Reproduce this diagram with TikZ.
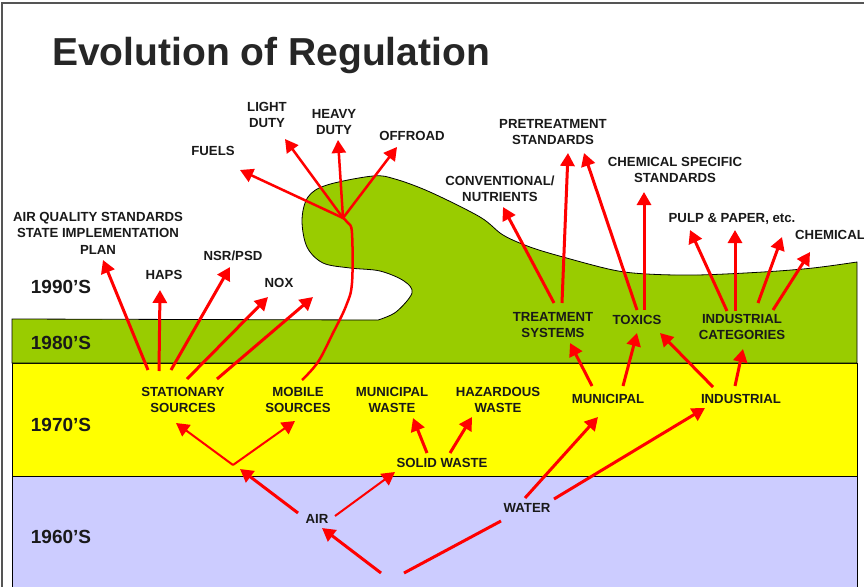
\documentclass[tikz,border=0pt]{standalone}
\usepackage{fontspec}
\setmainfont{Liberation Sans}
\usetikzlibrary{arrows.meta}
\definecolor{bandgreen}{HTML}{99CC00}
\definecolor{bandyellow}{HTML}{FFFF00}
\definecolor{bandblue}{HTML}{CCCCFF}
\definecolor{arrred}{HTML}{FF0000}
\definecolor{framegray}{HTML}{555555}
\tikzset{
  lbl/.style={inner sep=0pt, align=center, font=\fontsize{13.2}{16.5}\selectfont\bfseries, text=black!90},
  yearlbl/.style={inner sep=0pt, font=\fontsize{19}{22}\selectfont\bfseries, text=black!90},
  arr/.style={draw=arrred, line width=3pt, -{Triangle[length=13pt,width=14pt]}},
  thinarr/.style={draw=arrred, line width=2pt, -{Triangle[length=13pt,width=14pt]}},
  plainline/.style={draw=arrred, line width=3pt},
  band/.style={draw=black, line width=0.8pt}
}
\begin{document}
\begin{tikzpicture}[x=1pt,y=-1pt]
\useasboundingbox (0,0) rectangle (864,586);
\clip (0,0) rectangle (864,586);
\fill[white] (0,0) rectangle (864,586);
% outer frame
\draw[framegray, line width=1.5pt] (2,600) -- (2,3) -- (870,3);
% bands
\fill[bandblue] (12,476) rectangle (857,600);
\draw[band] (12,600) -- (12,476) -- (857,476) -- (857,600);
\fill[bandyellow] (12,363) rectangle (857,476);
\draw[band] (12,363) rectangle (857,476);
% green wave
\draw[band, fill=bandgreen] (12,363) -- (12,319) -- (378,320)
  -- plot[smooth, tension=0.55] coordinates {(378,320) (396,312) (412,293) (404,281) (380,271) (350,268) (323,263) (307,247) (302,220) (308,197) (327,185) (373,176) (395,179) (430,192) (480,217) (503,235) (530,247) (563,257) (613,270) (647,274) (697,275) (763,272) (813,268) (857,262)}
  -- (857,363) -- cycle;
% title
\node[anchor=base west, inner sep=0pt, font=\fontsize{39}{44}\selectfont\bfseries, text=black!85] (title) at (52,66) {Evolution of Regulation};
% year labels
\node[yearlbl] (y90) at (61,287) {1990’S};
\node[yearlbl] (y80) at (61,343) {1980’S};
\node[yearlbl] (y70) at (61,425) {1970’S};
\node[yearlbl] (y60) at (61,537) {1960’S};
% labels
\node[lbl] (aqs) at (98,233) {AIR QUALITY STANDARDS\\STATE IMPLEMENTATION\\PLAN};
\node[lbl] (haps) at (164,275) {HAPS};
\node[lbl] (nsr) at (233,256) {NSR/PSD};
\node[lbl] (nox) at (279,283) {NOX};
\node[lbl] (fuels) at (213,151) {FUELS};
\node[lbl] (light) at (267,115) {LIGHT\\DUTY};
\node[lbl] (heavy) at (334,122) {HEAVY\\DUTY};
\node[lbl] (offroad) at (412,136) {OFFROAD};
\node[lbl] (pretreat) at (553,132) {PRETREATMENT\\STANDARDS};
\node[lbl] (conv) at (500,189) {CONVENTIONAL/\\NUTRIENTS};
\node[lbl] (chemspec) at (675,170) {CHEMICAL SPECIFIC\\STANDARDS};
\node[lbl] (pulp) at (732,219) {PULP \& PAPER, etc.};
\node[lbl, anchor=west] (chem) at (795,235) {CHEMICAL};
\node[lbl] (ts) at (553,325) {TREATMENT\\SYSTEMS};
\node[lbl] (toxics) at (637,320) {TOXICS};
\node[lbl] (ic) at (742,327) {INDUSTRIAL\\CATEGORIES};
\node[lbl] (ss) at (183,400) {STATIONARY\\SOURCES};
\node[lbl] (ms) at (298,400) {MOBILE\\SOURCES};
\node[lbl] (mw) at (392,400) {MUNICIPAL\\WASTE};
\node[lbl] (hw) at (498,400) {HAZARDOUS\\WASTE};
\node[lbl] (muni) at (608,399) {MUNICIPAL};
\node[lbl] (indu) at (741,399) {INDUSTRIAL};
\node[lbl] (solid) at (442,463) {SOLID WASTE};
\node[lbl] (air) at (317,519) {AIR};
\node[lbl] (water) at (527,508) {WATER};
% coordinates
\coordinate (origA) at (381,573);
\coordinate (origW) at (404,573);
\coordinate (vpt) at (233,465);
\coordinate (hub) at (343,218);
\coordinate (extra) at (313,297);
% stationary sources
\draw[arr] (148,370) -- (103,260);
\draw[arr] (159,371) -- (160,290);
\draw[arr] (171,370) -- (230,267);
\draw[arr] (187,379) -- (268,297);
\draw[arr] (217,379) -- (extra);
% mobile sources wavy line
\draw[plainline, line width=2.5pt] plot[smooth, tension=0.6] coordinates {(302,380) (318,362) (333,333) (346,306) (352,283) (352,233) (348,223) (hub)};
\draw[arr, line width=2.5pt] (hub) -- (240,170);
\draw[arr, line width=2.5pt] (hub) -- (285,139);
\draw[arr, line width=2.5pt] (hub) -- (338,140);
\draw[arr, line width=2.5pt] (hub) -- (397,147);
% V to stationary / mobile
\draw[thinarr] (vpt) -- (176,423);
\draw[thinarr] (vpt) -- (295,421);
% air
\draw[arr] (298,513) -- (240,469);
\draw[thinarr] (335,516) -- (395,472);
% origin
\draw[arr] (origA) -- (322,528);
\draw[plainline] (origW) -- (501,521);
% solid waste
\draw[arr] (427,453) -- (413,418);
\draw[arr] (450,453) -- (472,417);
% water
\draw[arr] (525,498) -- (598,417);
\draw[arr] (554,499) -- (705,408);
% municipal
\draw[arr] (592,386) -- (570,343);
\draw[arr] (623,386) -- (637,333);
% industrial
\draw[arr] (713,387) -- (660,333);
\draw[arr] (735,386) -- (743,349);
% treatment systems
\draw[arr] (554,303) -- (503,207);
\draw[arr] (562,303) -- (568,153);
% toxics
\draw[arr] (637,310) -- (584,153);
\draw[arr] (644,310) -- (644,192);
% industrial categories
\draw[arr] (727,311) -- (690,230);
\draw[arr] (735,311) -- (735,230);
\draw[arr] (758,303) -- (782,237);
\draw[arr] (773,310) -- (810,252);
\end{tikzpicture}
\end{document}
